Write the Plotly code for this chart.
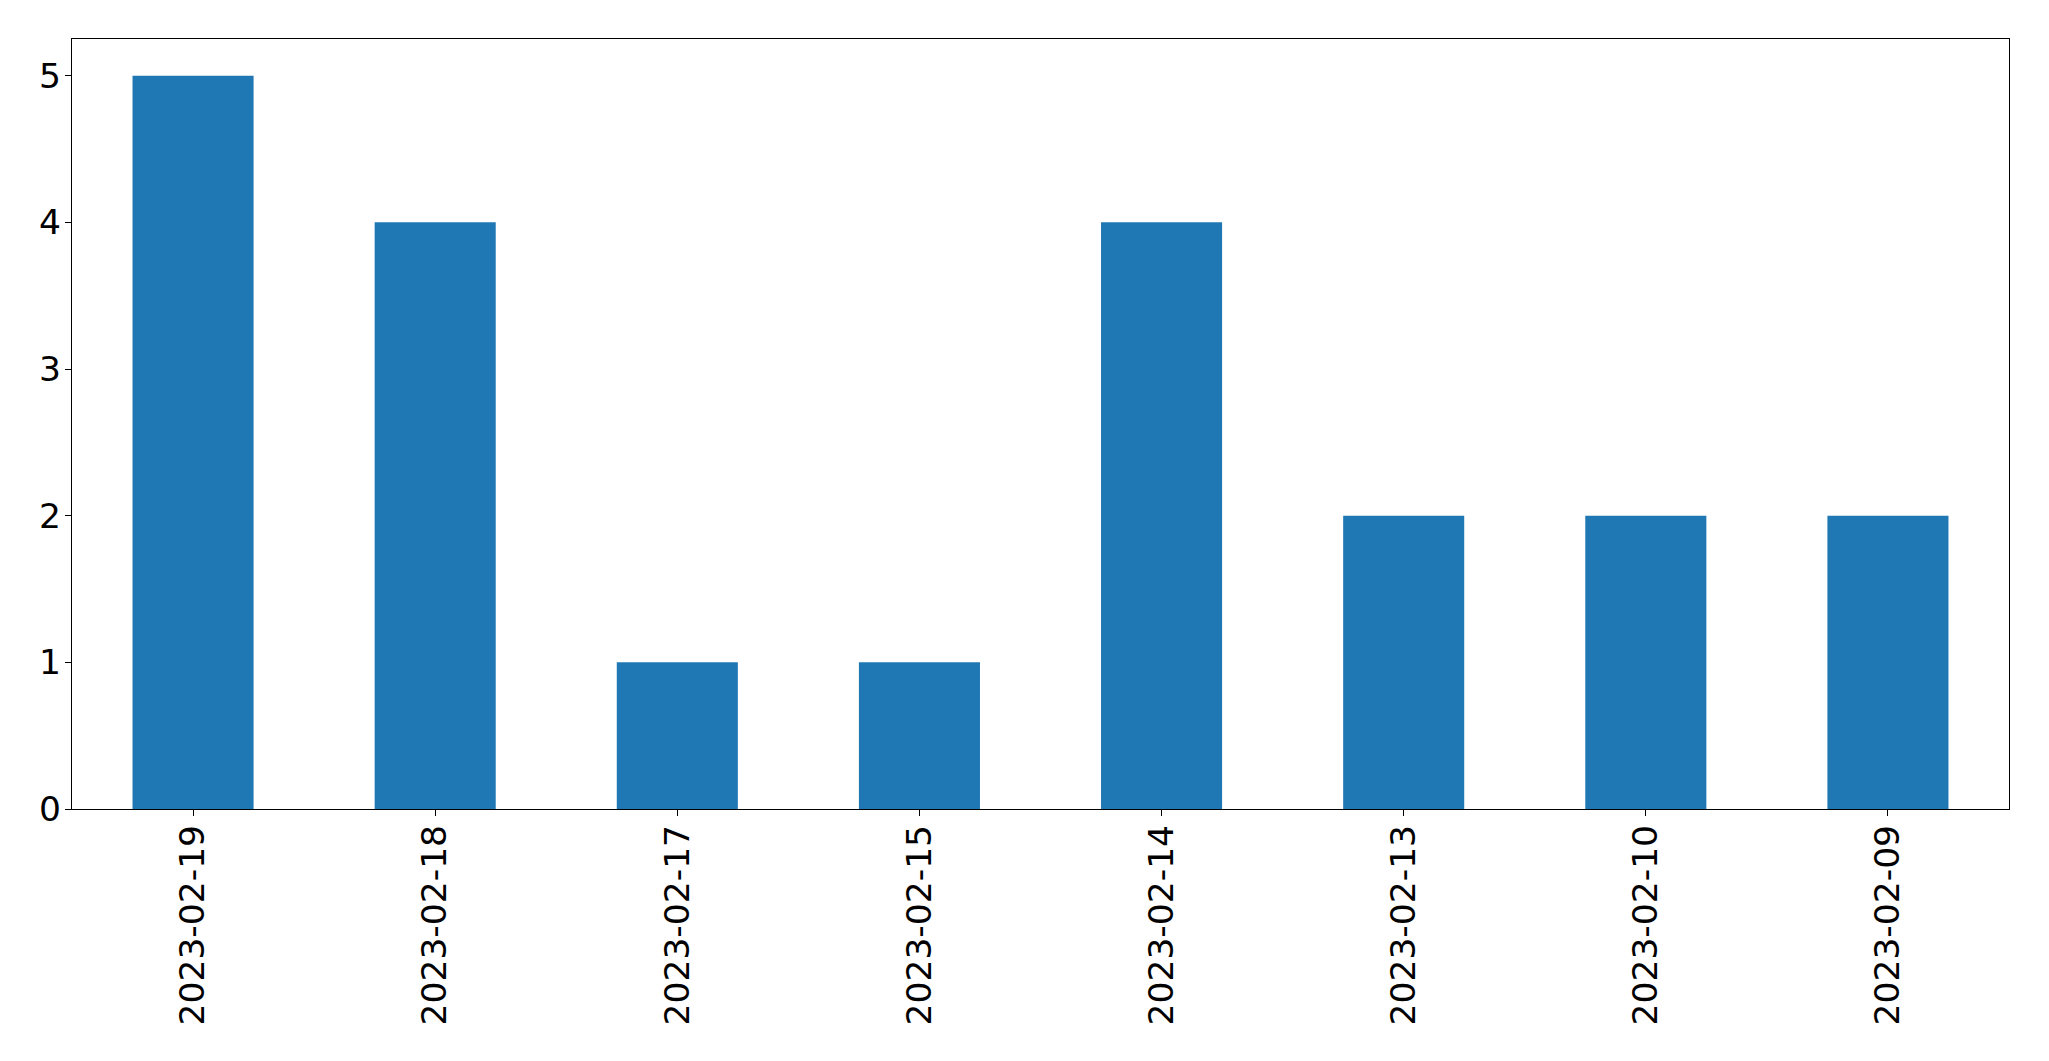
import plotly.graph_objects as go

dates = ["2023-02-19", "2023-02-18", "2023-02-17", "2023-02-15",
         "2023-02-14", "2023-02-13", "2023-02-10", "2023-02-09"]
counts = [5, 4, 1, 1, 4, 2, 2, 2]
y_ticks = [0, 1, 2, 3, 4, 5]

fig = go.Figure(go.Bar(x=dates, y=counts, marker=dict(color="#1f77b4", line=dict(width=0))))

axis_common = dict(
    showline=True, linecolor="black", linewidth=1.3, mirror=True,
    ticks="outside", ticklen=6, tickwidth=1.3, tickcolor="black",
    showgrid=False, zeroline=False, automargin=False,
    tickfont=dict(family="DejaVu Sans", size=34.5, color="black"),
)

fig.update_layout(
    template="none",
    width=2041, height=1053,
    margin=dict(l=64, r=40, t=31, b=252),
    paper_bgcolor="white", plot_bgcolor="white",
    bargap=0.5, showlegend=False,
    xaxis=dict(type="category", range=[-0.5, 7.5], tickangle=-90,
               ticklabelstandoff=-5, **axis_common),
    yaxis=dict(range=[0, 5.25], tickvals=y_ticks, ticktext=[str(v) for v in y_ticks],
               ticklabelstandoff=-3, **axis_common),
)

fig.write_html("out.html")
